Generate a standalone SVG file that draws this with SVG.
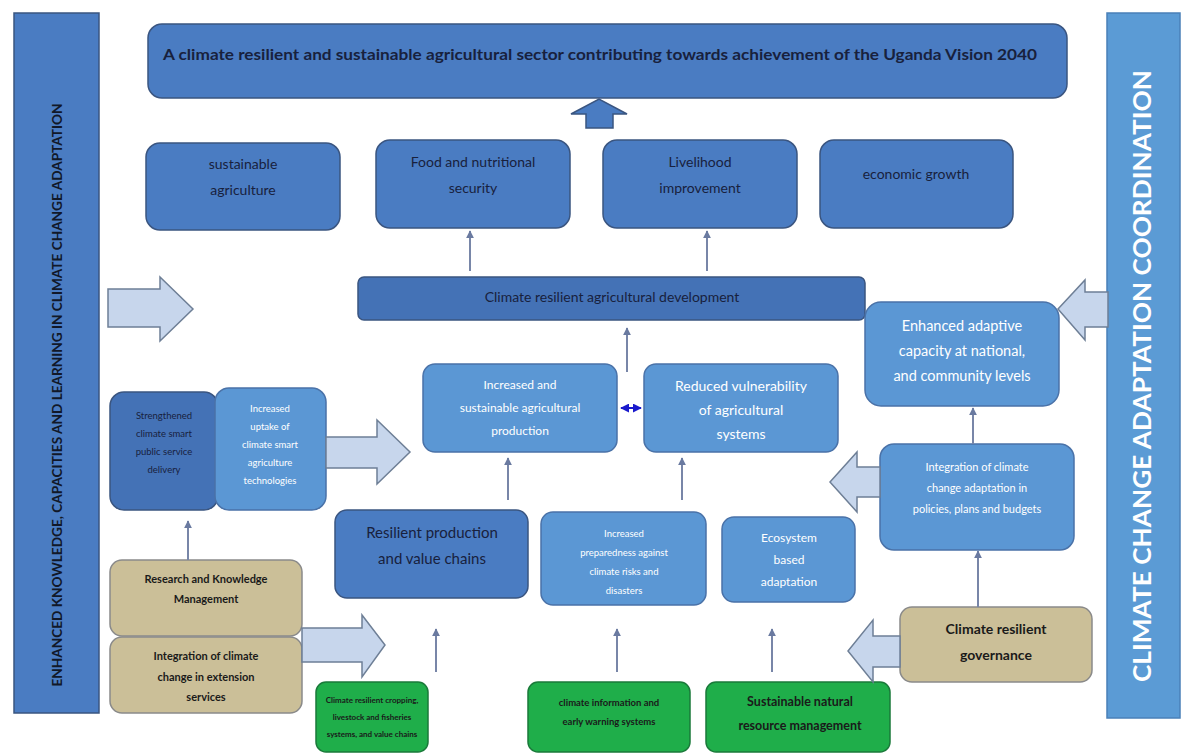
<svg xmlns="http://www.w3.org/2000/svg" width="1184" height="756" viewBox="0 0 1184 756">
<defs>
<style>
.dk{fill:#4a7cc2;stroke:#3a5580;stroke-width:1.5}
.dk2{fill:#4472b6;stroke:#3a5580;stroke-width:1.5}
.md{fill:#5b97d4;stroke:#4a72a8;stroke-width:1.5}
.tan{fill:#cbbf98;stroke:#8a8a8a;stroke-width:1.5}
.gr{fill:#1fae4a;stroke:#1a7a3a;stroke-width:1.5}
.blk{fill:#c7d6ec;stroke:#6e7f96;stroke-width:1.5}
.t{font-family:Lato,"Open Sans","Liberation Sans",sans-serif;text-anchor:middle}
.dt{fill:#18213d}
.wt{fill:#ffffff}
.bt{fill:#1a1a1a;font-weight:bold}
.ln{stroke:#7886a8;stroke-width:2;fill:none;marker-end:url(#ah)}
</style>
<marker id="ah" viewBox="0 0 10 10" refX="9" refY="5" markerWidth="4" markerHeight="4" orient="auto">
<path d="M0,0 L10,5 L0,10 Z" fill="#6a7aa0"/>
</marker>
<marker id="bh" viewBox="0 0 10 10" refX="9" refY="5" markerWidth="4.5" markerHeight="4.5" orient="auto-start-reverse">
<path d="M0,0 L10,5 L0,10 Z" fill="#1a1acc"/>
</marker>
</defs>
<rect width="1184" height="756" fill="#ffffff"/>

<g id="left-bar">
<rect x="14" y="13" width="85" height="700" class="dk"/>
<text class="t" transform="translate(62,395) rotate(-90)" font-size="12.5" font-weight="bold" fill="#111829" textLength="583" lengthAdjust="spacingAndGlyphs">ENHANCED KNOWLEDGE, CAPACITIES AND LEARNING IN CLIMATE CHANGE ADAPTATION</text>
</g>

<g id="right-bar">
<rect x="1107" y="13" width="73" height="705" fill="#5b9bd5" stroke="#4a80b8" stroke-width="1.5"/>
<text class="t" transform="translate(1151,376) rotate(-90)" font-size="24" font-weight="bold" fill="#ffffff" textLength="612" lengthAdjust="spacingAndGlyphs">CLIMATE CHANGE ADAPTATION COORDINATION</text>
</g>

<g id="goal">
<rect x="148" y="24" width="919" height="74" rx="14" class="dk"/>
<text class="t dt" x="600" y="60" font-size="14.5" font-weight="bold" textLength="874" lengthAdjust="spacingAndGlyphs">A climate resilient and sustainable agricultural sector contributing towards achievement of the Uganda Vision 2040</text>
</g>

<g id="sustainable-agriculture">
<rect x="146" y="143" width="194" height="87" rx="14" class="dk"/>
<text class="t dt" font-size="14"><tspan x="243" y="169">sustainable</tspan><tspan x="243" y="195">agriculture</tspan></text>
</g>
<g id="food-security">
<rect x="376" y="140" width="194" height="88" rx="14" class="dk"/>
<text class="t dt" font-size="14"><tspan x="473" y="167">Food and nutritional</tspan><tspan x="473" y="193">security</tspan></text>
</g>
<g id="livelihood">
<rect x="603" y="140" width="194" height="88" rx="14" class="dk"/>
<text class="t dt" font-size="14"><tspan x="700" y="167">Livelihood</tspan><tspan x="700" y="193">improvement</tspan></text>
</g>
<g id="economic-growth">
<rect x="820" y="140" width="193" height="88" rx="14" class="dk"/>
<text class="t dt" x="916" y="179" font-size="14">economic growth</text>
</g>

<g id="crad">
<rect x="358" y="277" width="507" height="43" rx="6" class="dk2"/>
<text class="t dt" x="612" y="302" font-size="14">Climate resilient agricultural development</text>
</g>

<g id="enhanced-capacity">
<rect x="865" y="302" width="194" height="104" rx="16" class="md"/>
<text class="t wt" font-size="14.5"><tspan x="962" y="331">Enhanced adaptive</tspan><tspan x="962" y="356">capacity at national,</tspan><tspan x="962" y="381">and community levels</tspan></text>
</g>

<g id="increased-production">
<rect x="423" y="364" width="194" height="88" rx="12" class="md"/>
<text class="t wt" font-size="12"><tspan x="520" y="389">Increased and</tspan><tspan x="520" y="412">sustainable agricultural</tspan><tspan x="520" y="435">production</tspan></text>
</g>
<g id="reduced-vulnerability">
<rect x="644" y="364" width="194" height="88" rx="12" class="md"/>
<text class="t wt" font-size="14"><tspan x="741" y="391">Reduced vulnerability</tspan><tspan x="741" y="415">of agricultural</tspan><tspan x="741" y="439">systems</tspan></text>
</g>

<g id="strengthened">
<rect x="110" y="392" width="108" height="118" rx="14" class="dk2"/>
<text class="t dt" font-size="9.5"><tspan x="164" y="419">Strengthened</tspan><tspan x="164" y="437">climate smart</tspan><tspan x="164" y="455">public service</tspan><tspan x="164" y="473">delivery</tspan></text>
</g>
<g id="uptake">
<rect x="215" y="388" width="111" height="122" rx="14" class="md"/>
<text class="t wt" font-size="9.5"><tspan x="270" y="412">Increased</tspan><tspan x="270" y="430">uptake of</tspan><tspan x="270" y="448">climate smart</tspan><tspan x="270" y="466">agriculture</tspan><tspan x="270" y="484">technologies</tspan></text>
</g>

<g id="integration-policies">
<rect x="880" y="444" width="194" height="106" rx="14" class="md"/>
<text class="t wt" font-size="11"><tspan x="977" y="471">Integration of climate</tspan><tspan x="977" y="492">change adaptation in</tspan><tspan x="977" y="513">policies, plans and budgets</tspan></text>
</g>

<g id="resilient-production">
<rect x="335" y="510" width="193" height="88" rx="12" class="dk"/>
<text class="t dt" font-size="15"><tspan x="432" y="538">Resilient production</tspan><tspan x="432" y="564">and value chains</tspan></text>
</g>
<g id="preparedness">
<rect x="541" y="512" width="165" height="93" rx="12" class="md"/>
<text class="t wt" font-size="9.5"><tspan x="624" y="537">Increased</tspan><tspan x="624" y="556">preparedness against</tspan><tspan x="624" y="575">climate risks and</tspan><tspan x="624" y="594">disasters</tspan></text>
</g>
<g id="ecosystem">
<rect x="722" y="517" width="133" height="85" rx="12" class="md"/>
<text class="t wt" font-size="12"><tspan x="789" y="542">Ecosystem</tspan><tspan x="789" y="564">based</tspan><tspan x="789" y="586">adaptation</tspan></text>
</g>

<g id="research">
<rect x="110" y="560" width="192" height="76" rx="12" class="tan"/>
<text class="t bt" font-size="11"><tspan x="206" y="583">Research and Knowledge</tspan><tspan x="206" y="603">Management</tspan></text>
</g>
<g id="extension">
<rect x="110" y="637" width="192" height="76" rx="12" class="tan"/>
<text class="t bt" font-size="11"><tspan x="206" y="660">Integration of climate</tspan><tspan x="206" y="681">change in extension</tspan><tspan x="206" y="701">services</tspan></text>
</g>
<g id="governance">
<rect x="900" y="607" width="192" height="75" rx="12" class="tan"/>
<text class="t bt" font-size="14"><tspan x="996" y="634">Climate resilient</tspan><tspan x="996" y="660">governance</tspan></text>
</g>

<g id="cropping">
<rect x="316" y="682" width="112" height="70" rx="10" class="gr"/>
<text class="t bt" font-size="8"><tspan x="372" y="703">Climate resilient cropping,</tspan><tspan x="372" y="720">livestock and fisheries</tspan><tspan x="372" y="737">systems, and value chains</tspan></text>
</g>
<g id="climate-info">
<rect x="528" y="682" width="162" height="70" rx="10" class="gr"/>
<text class="t bt" font-size="9.5"><tspan x="609" y="706">climate information and</tspan><tspan x="609" y="725">early warning systems</tspan></text>
</g>
<g id="natural-resource">
<rect x="706" y="682" width="184" height="70" rx="10" class="gr"/>
<text class="t bt" font-size="12.5"><tspan x="800" y="706">Sustainable natural</tspan><tspan x="800" y="730">resource management</tspan></text>
</g>

<g id="connectors">
<path d="M571,114 L599,99 L627,114 H613 V128 H586 V114 Z" class="dk"/>
<path d="M108,289 H160 V277 L193,309 L160,341 V327 H108 Z" class="blk"/>
<path d="M1108,292 H1085 V280 L1058,309 L1085,340 V327 H1108 Z" class="blk"/>
<path d="M326,437 H377 V420 L410,452 L377,484 V468 H326 Z" class="blk"/>
<path d="M880,467 H857 V452 L830,482 L857,512 V497 H880 Z" class="blk"/>
<path d="M900,636 H873 V620 L848,651 L873,682 V667 H900 Z" class="blk"/>
<path d="M302,628 H362 V615 L385,645 L362,677 V662 H302 Z" class="blk"/>
<line x1="470" y1="271" x2="470" y2="231" class="ln"/>
<line x1="707" y1="271" x2="707" y2="231" class="ln"/>
<line x1="627" y1="372" x2="627" y2="328" class="ln"/>
<line x1="621" y1="408" x2="641" y2="408" stroke="#1a1acc" stroke-width="2" marker-start="url(#bh)" marker-end="url(#bh)"/>
<line x1="508" y1="500" x2="508" y2="458" class="ln"/>
<line x1="682" y1="500" x2="682" y2="458" class="ln"/>
<line x1="973" y1="444" x2="973" y2="408" class="ln"/>
<line x1="978" y1="607" x2="978" y2="551" class="ln"/>
<line x1="188" y1="560" x2="188" y2="521" class="ln"/>
<line x1="436" y1="672" x2="436" y2="629" class="ln"/>
<line x1="617" y1="672" x2="617" y2="629" class="ln"/>
<line x1="772" y1="672" x2="772" y2="629" class="ln"/>
</g>
</svg>
